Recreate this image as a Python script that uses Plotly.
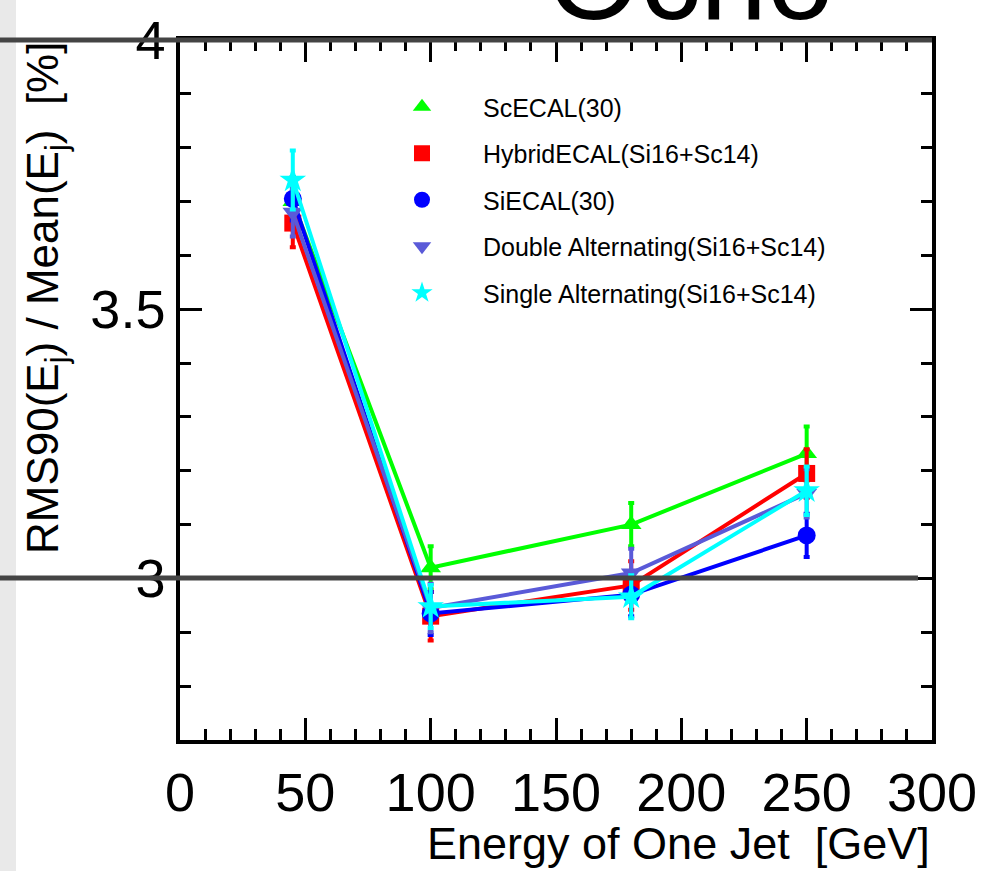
import plotly.graph_objects as go

energy = [45, 100, 180, 250]

names = ["ScECAL(30)", "HybridECAL(Si16+Sc14)", "SiECAL(30)",
         "Double Alternating(Si16+Sc14)", "Single Alternating(Si16+Sc14)"]
sc_ecal = [3.70, 3.02, 3.10, 3.232]
hybrid_ecal = [3.66, 2.93, 2.987, 3.195]
si_ecal = [3.705, 2.935, 2.97, 3.08]
double_alt = [3.68, 2.945, 3.01, 3.158]
single_alt = [3.74, 2.948, 2.966, 3.163]
sc_err = [0.045, 0.04, 0.04, 0.05]
hybrid_err = [0.045, 0.045, 0.045, 0.045]
si_err = [0.04, 0.04, 0.04, 0.04]
double_err = [0.045, 0.045, 0.045, 0.045]
single_err = [0.055, 0.04, 0.04, 0.045]

colors = ["#00ff00", "#ff0000", "#0000ff", "#5a5ad8", "#00ffff"]
symbols = ["triangle-up", "square", "circle", "triangle-down", "star"]
sizes = [18, 17, 18, 18, 20]
series = [sc_ecal, hybrid_ecal, si_ecal, double_alt, single_alt]
errors = [sc_err, hybrid_err, si_err, double_err, single_err]

FONT = "Liberation Sans, Arial, Helvetica, sans-serif"

fig = go.Figure()
for i in range(5):
    fig.add_trace(go.Scatter(
        x=energy, y=series[i], mode="lines+markers",
        line=dict(color=colors[i], width=4),
        marker=dict(color=colors[i], symbol=symbols[i], size=sizes[i], line=dict(width=0)),
        error_y=dict(type="data", array=errors[i], color=colors[i], thickness=4, width=3),
        showlegend=False, cliponaxis=False))
for i in range(5):
    fig.add_trace(go.Scatter(
        x=[None], y=[None], mode="markers", name=names[i],
        marker=dict(color=colors[i], symbol=symbols[i], size=16, line=dict(width=0)),
        legendgroup=f"g{i}", showlegend=True))

L, R, T, B = 180, 67, 40, 131
W, H = 999, 871
pw, ph = W - L - R, H - T - B

def px(xpix):
    return (xpix - L) / pw

def py(ypix):
    return (H - B - ypix) / ph

axis_common = dict(showline=True, linecolor="black", linewidth=3.5, mirror="allticks",
                   ticks="inside", tickcolor="black", tickwidth=2.5, showgrid=False,
                   zeroline=False, tickfont=dict(family=FONT, size=54, color="black"))

fig.update_xaxes(range=[0, 300], tickvals=[0, 50, 100, 150, 200, 250, 300], ticklen=22,
                 minor=dict(dtick=10, tick0=0, ticks="inside", ticklen=11, tickwidth=2.5, tickcolor="black"),
                 ticklabelstandoff=2, **axis_common)
fig.update_yaxes(range=[2.7, 4.0], tickvals=[3, 3.5, 4], ticktext=["3", "3.5", "4"], ticklen=22,
                 minor=dict(dtick=0.1, tick0=2.7, ticks="inside", ticklen=11, tickwidth=2.5, tickcolor="black"),
                 ticklabelstandoff=0, **axis_common)

fig.update_layout(
    width=W, height=H, margin=dict(l=L, r=R, t=T, b=B, autoexpand=False),
    paper_bgcolor="white", plot_bgcolor="white",
    font=dict(family=FONT, color="black"),
    legend=dict(x=px(361), y=py(84), xanchor="left", yanchor="top", bgcolor="rgba(0,0,0,0)",
                font=dict(family=FONT, size=25, color="black"), tracegroupgap=11,
                itemwidth=112),
    shapes=[
        dict(type="rect", xref="paper", yref="paper", x0=px(0), x1=px(16), y0=py(H + 5), y1=py(-5),
             fillcolor="#e9e9e9", line=dict(width=0), layer="below"),
        dict(type="line", xref="paper", yref="paper", x0=px(0), x1=px(932), y0=py(40), y1=py(40),
             line=dict(color="#444444", width=5), layer="above"),
        dict(type="line", xref="paper", yref="paper", x0=px(0), x1=px(918), y0=py(578), y1=py(578),
             line=dict(color="#444444", width=5), layer="above"),
    ],
    annotations=[
        dict(text="Energy of One Jet  [GeV]", xref="paper", yref="paper", x=px(932), y=py(843),
             xanchor="right", yanchor="middle", showarrow=False,
             font=dict(family=FONT, size=45, color="black")),
        dict(text="RMS90(E<sub>j</sub>) / Mean(E<sub>j</sub>)  [%]", xref="paper", yref="paper",
             x=px(46), y=py(298), xanchor="center", yanchor="middle", textangle=-90, showarrow=False,
             font=dict(family=FONT, size=44, color="black")),
        dict(text="Ocho", xref="paper", yref="paper", x=px(690), y=py(22),
             xanchor="center", yanchor="bottom", showarrow=False, yshift=-24,
             font=dict(family=FONT, size=120, color="black")),
    ],
)

fig.write_html("out.html")
